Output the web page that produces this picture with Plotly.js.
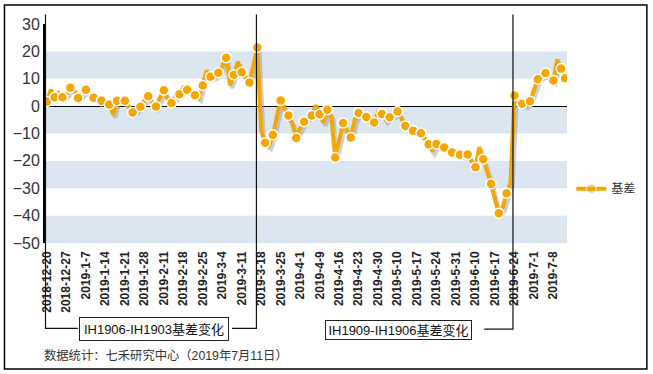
<!DOCTYPE html>
<html>
<head>
<meta charset="utf-8">
<script src="https://cdn.plot.ly/plotly-3.0.1.min.js"></script>
<style>html,body{margin:0;padding:0;background:#fff;}#chart{width:653px;height:374px;}</style>
</head>
<body>
<div id="chart"></div>
<script>
// ---- data ----
const dates = [
 "2018-12-20","2018-12-21","2018-12-24","2018-12-25","2018-12-26","2018-12-27","2018-12-28",
 "2019-1-2","2019-1-3","2019-1-4",
 "2019-1-7","2019-1-8","2019-1-9","2019-1-10","2019-1-11",
 "2019-1-14","2019-1-15","2019-1-16","2019-1-17","2019-1-18",
 "2019-1-21","2019-1-22","2019-1-23","2019-1-24","2019-1-25",
 "2019-1-28","2019-1-29","2019-1-30","2019-1-31","2019-2-1",
 "2019-2-11","2019-2-12","2019-2-13","2019-2-14","2019-2-15",
 "2019-2-18","2019-2-19","2019-2-20","2019-2-21","2019-2-22",
 "2019-2-25","2019-2-26","2019-2-27","2019-2-28","2019-3-1",
 "2019-3-4","2019-3-5","2019-3-6","2019-3-7","2019-3-8",
 "2019-3-11","2019-3-12","2019-3-13","2019-3-14","2019-3-15",
 "2019-3-18","2019-3-19","2019-3-20","2019-3-21","2019-3-22",
 "2019-3-25","2019-3-26","2019-3-27","2019-3-28","2019-3-29",
 "2019-4-1","2019-4-2","2019-4-3","2019-4-4",
 "2019-4-8","2019-4-9","2019-4-10","2019-4-11","2019-4-12",
 "2019-4-15","2019-4-16","2019-4-17","2019-4-18","2019-4-19",
 "2019-4-22","2019-4-23","2019-4-24","2019-4-25","2019-4-26",
 "2019-4-29","2019-4-30",
 "2019-5-6","2019-5-7","2019-5-8","2019-5-9","2019-5-10",
 "2019-5-13","2019-5-14","2019-5-15","2019-5-16","2019-5-17",
 "2019-5-20","2019-5-21","2019-5-22","2019-5-23","2019-5-24",
 "2019-5-27","2019-5-28","2019-5-29","2019-5-30","2019-5-31",
 "2019-6-3","2019-6-4","2019-6-5","2019-6-6",
 "2019-6-10","2019-6-11","2019-6-12","2019-6-13","2019-6-14",
 "2019-6-17","2019-6-18","2019-6-19","2019-6-20","2019-6-21",
 "2019-6-24","2019-6-25","2019-6-26","2019-6-27","2019-6-28",
 "2019-7-1","2019-7-2","2019-7-3","2019-7-4","2019-7-5",
 "2019-7-8","2019-7-9","2019-7-10","2019-7-11"
];
const basis = [
 1.7, 6.0, 3.2, 4.8, 3.2, 4.5, 6.7, 5.8, 3.0, 4.5,
 6.0, 4.8, 3.1, 2.5, 2.0, 1.5, 0.6, -3.0, 2.0, 2.2,
 2.0, -0.3, -2.3, -1.2, -0.2, 2.0, 3.6, 1.5, -0.1, 3.0,
 5.8, 2.5, 1.1, 3.5, 4.3, 6.8, 6.0, 5.0, 4.0, 3.0,
 7.5, 13.0, 10.7, 11.0, 12.2, 14.5, 17.7, 7.6, 11.5, 16.2,
 12.4, 10.5, 8.6, 15.0, 21.4, -9.0, -13.4, -14.5, -10.5, -4.0,
 2.1, -1.0, -3.4, -6.5, -11.6, -8.0, -5.7, -3.8, -3.4, 0.3,
 -3.0, -6.0, -1.3, -4.0, -18.8, -12.0, -6.2, -9.0, -11.5, -5.0,
 -2.5, -3.5, -4.0, -6.0, -6.0, -2.2, -2.9, -5.0, -4.1, -3.0,
 -2.0, -4.5, -7.3, -8.0, -9.0, -9.5, -9.9, -12.0, -13.9, -16.5,
 -13.8, -14.5, -15.1, -16.0, -16.9, -17.5, -17.8, -18.0, -17.7, -20.0,
 -22.3, -15.0, -19.4, -23.5, -28.4, -34.0, -39.1, -37.0, -31.8, -28.0,
 3.9, 1.5, 0.9, 0.5, 1.8, 6.0, 9.8, 11.0, 12.1, 10.5,
 9.4, 17.0, 13.7, 10.2
];
const tickLabels = [
 "2018-12-20","2018-12-27","2019-1-7","2019-1-14","2019-1-21","2019-1-28",
 "2019-2-11","2019-2-18","2019-2-25","2019-3-4","2019-3-11","2019-3-18",
 "2019-3-25","2019-4-1","2019-4-9","2019-4-16","2019-4-23","2019-4-30",
 "2019-5-10","2019-5-17","2019-5-24","2019-5-31","2019-6-10","2019-6-17",
 "2019-6-24","2019-7-1","2019-7-8"
];
const yTicks = [30, 20, 10, 0, -10, -20, -30, -40, -50];
const seriesName = "基差";
const label1 = "IH1906-IH1903基差变化";
const label2 = "IH1909-IH1906基差变化";
const footer = "数据统计：七禾研究中心（2019年7月11日）";

// ---- layout helpers (pixel -> paper) ----
const L = 45, R = 566.7, T = 23.5, B = 243.5;
const W = R - L, H = B - T;
const px = v => (v - L) / W;
const py = v => (B - v) / H;
const yMin = -50, yMax = 30;
const band = v => (v - yMin) / (yMax - yMin);
const n = dates.length;
const pxPerCat = W / n, pxPerUnit = H / (yMax - yMin);
const sdx = 2, sdy = 3;

const FONT = "'Liberation Sans', Arial, 'Noto Sans CJK SC', sans-serif";
const ORANGE = "#F5A600";

const markerOpacity = basis.map((v, i) => (i % 2 === 0 || i === n - 1) ? 1 : 0);

const traces = [
  { // shadow
    x: dates, y: basis, xaxis: 'x', yaxis: 'y', type: 'scatter', mode: 'lines',
    line: {color: 'rgba(140,150,160,0.45)', width: 4.5}, hoverinfo: 'skip', showlegend: false
  },
  {
    x: dates, y: basis, xaxis: 'x2', yaxis: 'y2', type: 'scatter', mode: 'lines+markers',
    name: seriesName,
    line: {color: ORANGE, width: 4},
    marker: {color: ORANGE, size: 10, opacity: markerOpacity, line: {color: '#fff', width: 1.5}}
  }
];

const bandRanges = [[10, 20], [-10, 0], [-30, -20], [-50, -40]];
const shapes = bandRanges.map(r => ({
  type: 'rect', xref: 'paper', yref: 'paper', x0: 0, x1: 1, y0: band(r[0]), y1: band(r[1]),
  fillcolor: '#DCE6F1', line: {width: 0}, layer: 'below'
}));
const blk = {color: '#111', width: 1.2};
shapes.push(
  {type: 'path', xref: 'paper', yref: 'paper', line: blk,
   path: `M${px(45.5)},${py(14)} L${px(45.5)},${py(329.3)} L${px(78)},${py(329.3)}`},
  {type: 'path', xref: 'paper', yref: 'paper', line: blk,
   path: `M${px(232)},${py(329.3)} L${px(256.3)},${py(329.3)} L${px(256.3)},${py(14)}`},
  {type: 'path', xref: 'paper', yref: 'paper', line: blk,
   path: `M${px(484)},${py(330)} L${px(512.7)},${py(330)} L${px(512.7)},${py(14)}`},
  {type: 'rect', xref: 'paper', yref: 'paper', x0: px(4.5), x1: px(646.5), y0: py(370), y1: py(4.5),
   line: {color: '#000', width: 1.5}, fillcolor: 'rgba(0,0,0,0)', layer: 'above'}
);

const annotations = [
  {text: label1, xref: 'paper', yref: 'paper', x: px(154), y: py(330), showarrow: false,
   xanchor: 'center', yanchor: 'middle', bordercolor: '#222', borderwidth: 1, borderpad: 1,
   width: 146, height: 20, bgcolor: '#fff', font: {family: FONT, size: 13, color: '#111'}},
  {text: label2, xref: 'paper', yref: 'paper', x: px(398.5), y: py(331), showarrow: false,
   xanchor: 'center', yanchor: 'middle', bordercolor: '#222', borderwidth: 1, borderpad: 1,
   width: 143, height: 16, bgcolor: '#fff', font: {family: FONT, size: 13, color: '#111'}},
  {text: footer, xref: 'paper', yref: 'paper', x: px(42), y: py(356.5), showarrow: false,
   xanchor: 'left', yanchor: 'middle', font: {family: FONT, size: 12.3, color: '#333'}}
];

const layout = {
  width: 653, height: 374,
  margin: {l: L, r: 653 - R, t: T, b: 374 - B, pad: 0},
  paper_bgcolor: '#fff', plot_bgcolor: 'rgba(0,0,0,0)',
  font: {family: FONT, color: '#333'},
  showlegend: true,
  legend: {x: px(571), y: py(189), xanchor: 'left', yanchor: 'middle', bgcolor: 'rgba(0,0,0,0)',
           font: {family: FONT, size: 12, color: '#333'}, itemwidth: 30},
  xaxis: {type: 'category', visible: false, fixedrange: true,
          range: [-0.5 - sdx / pxPerCat, n - 0.5 - sdx / pxPerCat]},
  yaxis: {visible: false, fixedrange: true,
          range: [yMin + sdy / pxPerUnit, yMax + sdy / pxPerUnit]},
  xaxis2: {type: 'category', overlaying: 'x', anchor: 'y2', side: 'bottom',
           range: [-0.5, n - 0.5], tickmode: 'array', tickvals: tickLabels, ticktext: tickLabels,
           tickangle: -90, ticks: '', ticklabelstandoff: 5, showgrid: false, showline: false, zeroline: false,
           tickfont: {family: FONT, size: 12, color: '#222', weight: 'bold'}, fixedrange: true},
  yaxis2: {overlaying: 'y', anchor: 'x2', side: 'left', range: [yMin, yMax],
           tickmode: 'array', tickvals: yTicks, ticks: '', showgrid: false,
           showline: true, linecolor: '#000', linewidth: 2,
           zeroline: true, zerolinecolor: '#000', zerolinewidth: 1,
           tickfont: {family: FONT, size: 16, color: '#333'}, fixedrange: true},
  shapes: shapes,
  annotations: annotations
};

Plotly.newPlot('chart', traces, layout, {displayModeBar: false, staticPlot: true});
</script>
</body>
</html>
